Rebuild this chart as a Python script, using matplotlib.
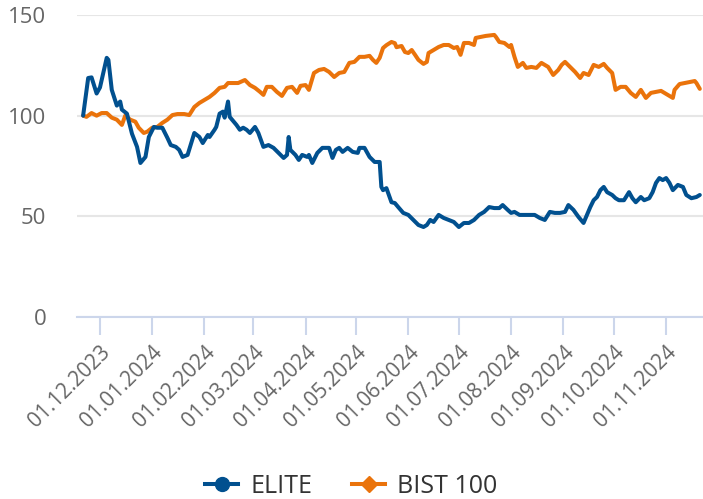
import pandas as pd
import numpy as np
import matplotlib.pyplot as plt
import matplotlib.dates as mdates
from matplotlib.lines import Line2D

plt.rcParams['font.family'] = ['Open Sans', 'DejaVu Sans']

# ELITE, rebased to 100
elite_dates = [
    "2023-11-21", "2023-11-24", "2023-11-26", "2023-11-29", "2023-12-01", "2023-12-05",
    "2023-12-06", "2023-12-08", "2023-12-11", "2023-12-13", "2023-12-14", "2023-12-17",
    "2023-12-20", "2023-12-23", "2023-12-25", "2023-12-28", "2023-12-30", "2024-01-02",
    "2024-01-04", "2024-01-07", "2024-01-10", "2024-01-12", "2024-01-15", "2024-01-17",
    "2024-01-19", "2024-01-22", "2024-01-26", "2024-01-29", "2024-01-31", "2024-02-03",
    "2024-02-04", "2024-02-07", "2024-02-08", "2024-02-10", "2024-02-12", "2024-02-13",
    "2024-02-15", "2024-02-16", "2024-02-20", "2024-02-22", "2024-02-24", "2024-02-26",
    "2024-02-28", "2024-03-02", "2024-03-04", "2024-03-07", "2024-03-10", "2024-03-13",
    "2024-03-16", "2024-03-19", "2024-03-21", "2024-03-22", "2024-03-23", "2024-03-26",
    "2024-03-28", "2024-03-30", "2024-04-02", "2024-04-03", "2024-04-05", "2024-04-08",
    "2024-04-11", "2024-04-15", "2024-04-17", "2024-04-19", "2024-04-21", "2024-04-23",
    "2024-04-26", "2024-04-29", "2024-05-02", "2024-05-03", "2024-05-06", "2024-05-09",
    "2024-05-12", "2024-05-15", "2024-05-16", "2024-05-17", "2024-05-19", "2024-05-22",
    "2024-05-24", "2024-05-26", "2024-05-29", "2024-06-01", "2024-06-04", "2024-06-07",
    "2024-06-10", "2024-06-12", "2024-06-14", "2024-06-16", "2024-06-19", "2024-06-22",
    "2024-06-25", "2024-06-28", "2024-07-01", "2024-07-04", "2024-07-07", "2024-07-10",
    "2024-07-13", "2024-07-16", "2024-07-19", "2024-07-22", "2024-07-25", "2024-07-27",
    "2024-07-30", "2024-08-01", "2024-08-03", "2024-08-06", "2024-08-09", "2024-08-12",
    "2024-08-15", "2024-08-18", "2024-08-21", "2024-08-24", "2024-08-27", "2024-08-30",
    "2024-09-02", "2024-09-04", "2024-09-07", "2024-09-10", "2024-09-13", "2024-09-15",
    "2024-09-17", "2024-09-19", "2024-09-21", "2024-09-23", "2024-09-25", "2024-09-27",
    "2024-09-30", "2024-10-02", "2024-10-04", "2024-10-07", "2024-10-10", "2024-10-12",
    "2024-10-14", "2024-10-17", "2024-10-19", "2024-10-22", "2024-10-24", "2024-10-26",
    "2024-10-28", "2024-10-30", "2024-11-01", "2024-11-03", "2024-11-05", "2024-11-08",
    "2024-11-11", "2024-11-13", "2024-11-16", "2024-11-19", "2024-11-21",
]
elite_values = [
    100, 118.7, 119, 111, 114, 128.7,
    127.7, 112.8, 105, 107, 103, 101,
    91, 84.5, 76.5, 79.5, 89.4, 94.4,
    94, 94, 89, 85.4, 84.5, 83,
    79.5, 80.5, 91.4, 89.4, 86.4, 90.4,
    89.4, 93, 94.4, 101, 102, 99,
    107, 99.4, 95.4, 93, 94, 93,
    91.4, 94.4, 91.4, 84.5, 85.4, 84,
    81.5, 79, 80.5, 89.4, 83, 80.5,
    78, 80.5, 79.5, 80.5, 76.5, 81.5,
    84, 84, 79, 83, 84, 82,
    84, 82, 81.5, 84, 84, 79.5,
    77, 77, 64.6, 63, 64, 57,
    56.6, 54.6, 51.7, 50.7, 48.2, 45.7,
    44.7, 45.7, 48.2, 47.2, 50.7, 49.2,
    48.2, 47.2, 44.7, 46.7, 46.7, 48.2,
    50.7, 52.2, 54.6, 54.1, 54.1, 55.6,
    53.2, 51.7, 52.2, 50.7, 50.7, 50.7,
    50.7, 49.2, 48.2, 52.2, 51.7, 51.7,
    52.2, 55.6, 53.2, 49.7, 46.7, 50.7,
    54.6, 58, 59.6, 63, 64.6, 62,
    60.6, 59, 58, 58, 62, 59,
    57, 59.6, 58, 59, 62, 66.6,
    69, 68, 69, 66.6, 63, 65.6,
    64.6, 60.6, 59, 59.6, 60.6,
]

# BIST 100, rebased to 100
bist_dates = [
    "2023-11-21", "2023-11-23", "2023-11-26", "2023-11-29", "2023-12-02", "2023-12-05",
    "2023-12-08", "2023-12-11", "2023-12-14", "2023-12-16", "2023-12-19", "2023-12-22",
    "2023-12-24", "2023-12-27", "2023-12-29", "2024-01-01", "2024-01-04", "2024-01-07",
    "2024-01-10", "2024-01-13", "2024-01-16", "2024-01-20", "2024-01-23", "2024-01-26",
    "2024-01-29", "2024-02-01", "2024-02-04", "2024-02-07", "2024-02-10", "2024-02-13",
    "2024-02-15", "2024-02-18", "2024-02-21", "2024-02-25", "2024-02-28", "2024-03-02",
    "2024-03-05", "2024-03-07", "2024-03-09", "2024-03-12", "2024-03-15", "2024-03-18",
    "2024-03-21", "2024-03-24", "2024-03-27", "2024-03-29", "2024-04-01", "2024-04-03",
    "2024-04-06", "2024-04-09", "2024-04-12", "2024-04-15", "2024-04-18", "2024-04-21",
    "2024-04-24", "2024-04-27", "2024-04-30", "2024-05-03", "2024-05-06", "2024-05-09",
    "2024-05-11", "2024-05-13", "2024-05-15", "2024-05-17", "2024-05-19", "2024-05-22",
    "2024-05-24", "2024-05-25", "2024-05-28", "2024-05-30", "2024-06-01", "2024-06-03",
    "2024-06-05", "2024-06-07", "2024-06-10", "2024-06-12", "2024-06-13", "2024-06-16",
    "2024-06-19", "2024-06-22", "2024-06-25", "2024-06-28", "2024-06-30", "2024-07-02",
    "2024-07-04", "2024-07-07", "2024-07-10", "2024-07-11", "2024-07-14", "2024-07-17",
    "2024-07-22", "2024-07-23", "2024-07-25", "2024-07-28", "2024-07-31", "2024-08-01",
    "2024-08-03", "2024-08-05", "2024-08-08", "2024-08-10", "2024-08-13", "2024-08-16",
    "2024-08-19", "2024-08-23", "2024-08-26", "2024-08-29", "2024-08-31", "2024-09-02",
    "2024-09-05", "2024-09-08", "2024-09-11", "2024-09-13", "2024-09-16", "2024-09-19",
    "2024-09-22", "2024-09-25", "2024-09-27", "2024-09-30", "2024-10-02", "2024-10-05",
    "2024-10-08", "2024-10-11", "2024-10-14", "2024-10-17", "2024-10-20", "2024-10-23",
    "2024-10-26", "2024-10-29", "2024-10-31", "2024-11-02", "2024-11-05", "2024-11-06",
    "2024-11-09", "2024-11-12", "2024-11-15", "2024-11-18", "2024-11-19", "2024-11-21",
]
bist_values = [
    100, 99.4, 101.3, 100, 101.3, 101.3,
    99, 98, 95.4, 100, 98, 97,
    94, 91.4, 92, 94, 94.4, 96.4,
    98, 100.3, 100.8, 100.8, 100.3, 104.3,
    106.3, 107.8, 109.3, 111.3, 113.8, 114.3,
    116.2, 116.2, 116.2, 117.7, 115.2, 113.8,
    111.8, 110.3, 114.3, 114.3, 111.8, 109.8,
    113.8, 114.3, 111.3, 114.8, 115.2, 112.8,
    121.2, 122.7, 123.2, 121.7, 119.2, 121.2,
    121.7, 126.2, 126.7, 129.2, 129.2, 129.7,
    127.7, 126.2, 128.7, 133.6, 135, 136.6,
    136, 134, 134.6, 131.6, 131.1, 132.6,
    130.2, 127.7, 125.7, 126.7, 131.1, 132.6,
    134.1, 135.1, 135.1, 133.6, 134.1, 130.2,
    136.1, 136.1, 135.1, 138.6, 139.1, 139.6,
    140.1, 139.1, 136.6, 136.1, 134.1, 135.1,
    129.2, 124.2, 126.2, 123.7, 124.2, 123.7,
    126.2, 124.2, 120.2, 122.7, 125.2, 126.7,
    124.2, 121.7, 118.7, 121.2, 120.2, 125.2,
    124.2, 125.7, 123.7, 121.2, 112.8, 114.3,
    114.3, 111.3, 109.3, 112.8, 108.8, 111.3,
    111.8, 112.3, 111.3, 110.3, 108.8, 112.8,
    115.7, 116.2, 116.7, 117.2, 116.2, 113.3,
]

series_names = ["ELITE", "BIST 100"]
series_colors = ["#01508f", "#ea730b"]
y_ticks = [0, 50, 100, 150]

fig = plt.figure(figsize=(7.03, 4.99), dpi=100)
ax = fig.add_axes([0.1095, 0.3647, 0.8905, 0.6053])

ax.plot(pd.to_datetime(elite_dates), elite_values, color=series_colors[0],
        lw=2.9, solid_joinstyle="round", solid_capstyle="round", zorder=3)
ax.plot(pd.to_datetime(bist_dates), bist_values, color=series_colors[1],
        lw=2.9, solid_joinstyle="round", solid_capstyle="round", zorder=2)

start = pd.Timestamp("2023-12-01")
ax.set_xlim(start - pd.Timedelta(days=13.65), start + pd.Timedelta(days=357.9))
ax.set_ylim(0, 150)

ax.set_yticks(y_ticks)
ax.grid(axis="y", color="#e6e6e6", lw=1.5)
ax.set_axisbelow(True)

ax.xaxis.set_major_locator(mdates.MonthLocator(bymonthday=1))
ax.xaxis.set_major_formatter(mdates.DateFormatter("%d.%m.%Y"))

for s in ["top", "right", "left"]:
    ax.spines[s].set_visible(False)
ax.spines["bottom"].set_color("#ccd6eb")
ax.spines["bottom"].set_linewidth(1.5)
ax.spines["bottom"].set_zorder(1)

ax.tick_params(axis="y", length=0, pad=22, labelsize=16, labelcolor="#666666")
ax.tick_params(axis="x", length=13, width=1.5, color="#ccd6eb", pad=5,
               labelsize=15, labelcolor="#666666")
for lab in ax.get_xticklabels():
    lab.set_rotation(45)
    lab.set_ha("right")
    lab.set_va("top")
    lab.set_rotation_mode("anchor")

handles = [
    Line2D([], [], color=series_colors[0], lw=2.9, marker="o", markersize=10),
    Line2D([], [], color=series_colors[1], lw=2.9, marker="D", markersize=8),
]
fig.legend(handles, series_names, loc="center", bbox_to_anchor=(0.5, 0.025),
           ncol=2, frameon=False, fontsize=18, handlelength=1.3,
           handletextpad=0.5, columnspacing=1.6, labelcolor="#333333")

fig.savefig("out.png", dpi=100)
